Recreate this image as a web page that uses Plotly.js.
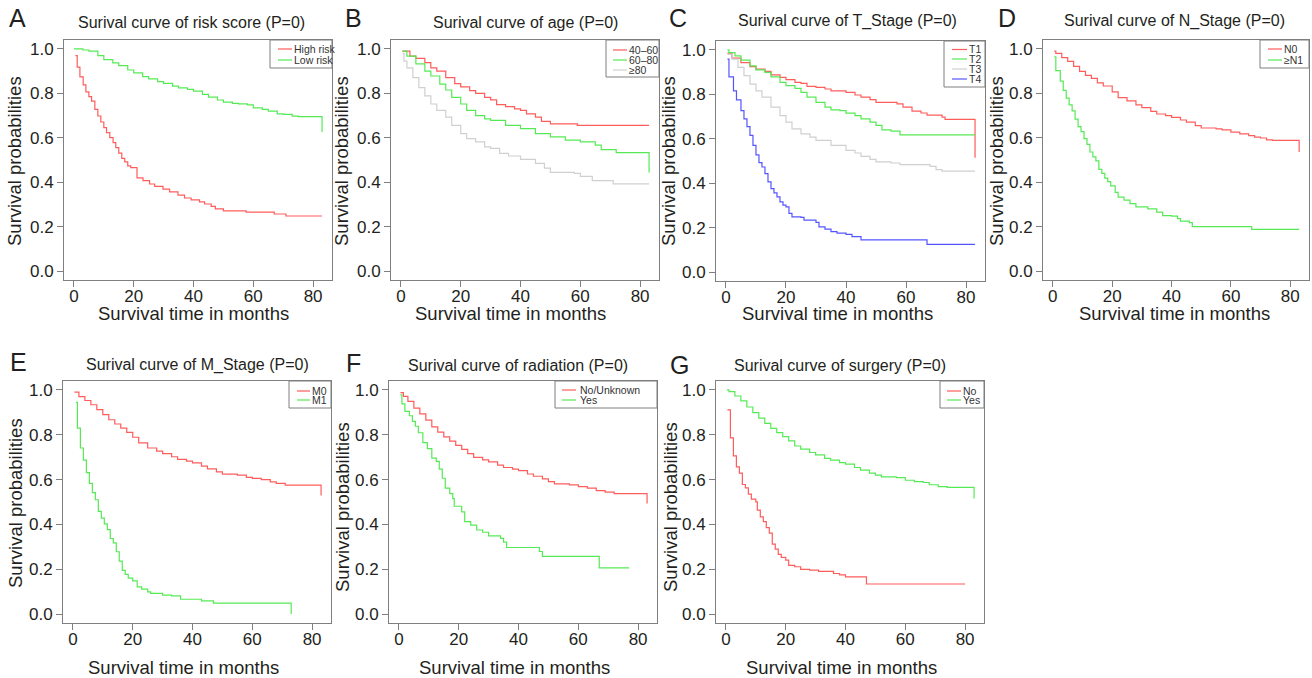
<!DOCTYPE html>
<html>
<head>
<meta charset="utf-8">
<script src="https://cdn.plot.ly/plotly-3.0.1.min.js"></script>
<style>html,body{margin:0;padding:0;background:#fff;}#chart{width:1312px;height:678px;}</style>
</head>
<body>
<div id="chart"></div>
<script>
// ---------------- DATA ----------------
const panelLetters = ["A","B","C","D","E","F","G"];
const panelTitles = [
  "Surival curve of risk score (P=0)",
  "Surival curve of age (P=0)",
  "Surival curve of T_Stage (P=0)",
  "Surival curve of N_Stage (P=0)",
  "Surival curve of M_Stage (P=0)",
  "Surival curve of radiation (P=0)",
  "Surival curve of surgery (P=0)"
];
const xAxisTitle = "Survival time in months";
const yAxisTitle = "Survival probabilities";
const xTickVals = [0, 20, 40, 60, 80];
const yTickVals = [0.0, 0.2, 0.4, 0.6, 0.8, 1.0];

const groupsA = ["High risk", "Low risk"];
const groupsB = ["40–60", "60–80", "≥80"];
const groupsC = ["T1", "T2", "T3", "T4"];
const groupsD = ["N0", "≥N1"];
const groupsE = ["M0", "M1"];
const groupsF = ["No/Unknown", "Yes"];
const groupsG = ["No", "Yes"];

// A: risk score
const A_high_t = [0.5,1.1,2,3.1,4,5,5.9,7,8,9,10,10.9,12,13.1,14,15,16,17,18,19,21.1,23.1,25.3,27,29.8,32,34.8,37,39.2,42,43.7,45.9,47.3,50,57.6,67,70.9,83];
const A_high_s = [0.97,0.918,0.874,0.838,0.807,0.785,0.765,0.728,0.698,0.671,0.646,0.623,0.601,0.578,0.556,0.531,0.507,0.492,0.474,0.466,0.42,0.407,0.392,0.381,0.369,0.357,0.342,0.329,0.321,0.312,0.302,0.291,0.28,0.271,0.265,0.257,0.248,0.248];
const A_low_t = [0,3,5,8,10,13,15,18,20,23,25,28,30,33,35,38,40,43,45,48,50,53,55,58,60,63,65,68,70,73,75,83,83];
const A_low_s = [1.0,0.995,0.99,0.97,0.952,0.937,0.925,0.905,0.892,0.875,0.865,0.853,0.845,0.832,0.825,0.818,0.81,0.795,0.783,0.77,0.76,0.755,0.753,0.748,0.735,0.728,0.72,0.708,0.705,0.697,0.695,0.695,0.626];

// B: age
const B_4060_t = [0.5,3,5,8,10,12,15,18,20,23,25,28,30,32,35,38,40,42,45,47,50,58,59,83];
const B_4060_s = [0.99,0.967,0.957,0.938,0.915,0.90,0.871,0.844,0.829,0.812,0.80,0.782,0.771,0.749,0.74,0.73,0.723,0.708,0.693,0.674,0.663,0.663,0.656,0.656];
const B_6080_t = [0.5,2,5,8,10,13,15,17,20,22,25,28,30,35,40,45,50,55,60,65,67,72,83,83];
const B_6080_s = [0.99,0.967,0.933,0.90,0.878,0.841,0.815,0.782,0.752,0.723,0.70,0.685,0.678,0.656,0.641,0.619,0.604,0.589,0.582,0.567,0.547,0.533,0.533,0.444];
const B_80_t = [0.5,1,2,4,6,8,10,12,15,17,20,22,25,28,30,33,36,40,45,48,50,58,60,64,71,83];
const B_80_s = [0.98,0.945,0.915,0.871,0.826,0.789,0.752,0.723,0.693,0.656,0.619,0.596,0.582,0.559,0.552,0.53,0.518,0.503,0.485,0.463,0.444,0.44,0.426,0.407,0.393,0.393];

// C: T stage
const C_T1_t = [0.5,2,5,8,10,13,15,18,20,23,25,27,30,33,35,40,43,45,48,50,57,59,62,65,67,72,73,83,83];
const C_T1_s = [0.985,0.963,0.943,0.925,0.913,0.903,0.888,0.876,0.866,0.854,0.849,0.836,0.831,0.824,0.816,0.809,0.797,0.787,0.776,0.764,0.757,0.742,0.724,0.716,0.706,0.697,0.687,0.687,0.515];
const C_T2_t = [0.5,1,3,5,8,10,13,15,18,20,23,25,27,30,33,35,38,40,43,45,48,50,52,55,58,83];
const C_T2_s = [1.0,0.988,0.973,0.954,0.928,0.91,0.899,0.879,0.854,0.839,0.827,0.809,0.787,0.764,0.742,0.73,0.727,0.715,0.704,0.69,0.675,0.66,0.64,0.634,0.618,0.618];
const C_T3_t = [0.5,2,4,6,8,10,12,15,18,20,22,25,28,30,35,40,43,45,48,50,55,58,68,70,72,83];
const C_T3_s = [0.98,0.958,0.921,0.884,0.846,0.816,0.787,0.742,0.704,0.675,0.645,0.622,0.607,0.593,0.57,0.548,0.536,0.521,0.507,0.496,0.491,0.484,0.476,0.461,0.454,0.454];
const C_T4_t = [0.5,1,2.5,3.5,5,6,7,8,9,10,11,12,13,14,15,16,17,18,19,20,21,22,25,26,30,31,33,35,37,40,42,45,67,83];
const C_T4_s = [0.958,0.879,0.816,0.775,0.727,0.69,0.655,0.615,0.57,0.528,0.493,0.473,0.443,0.406,0.376,0.357,0.339,0.316,0.301,0.294,0.264,0.249,0.246,0.234,0.224,0.204,0.193,0.182,0.175,0.17,0.16,0.145,0.125,0.125];

// D: N stage
const D_N0_t = [0.5,1,3,5,7,9,11,13,15,17,20,22,25,28,30,33,35,38,40,43,45,48,50,55,57,60,63,66,68,70,72,74,83,83];
const D_N0_s = [0.99,0.98,0.961,0.944,0.921,0.899,0.881,0.867,0.847,0.833,0.807,0.781,0.766,0.748,0.736,0.719,0.707,0.70,0.692,0.68,0.67,0.655,0.644,0.64,0.636,0.625,0.618,0.61,0.603,0.599,0.591,0.588,0.588,0.536];
const D_N1_t = [0.5,1,2.5,3.5,4.5,5.5,6.5,7.5,8.5,9.5,10.5,11.5,12.5,13.5,14.5,15.5,16.5,17.5,18.5,19.5,21,22,24,26,28,32,35,37,40,42,43,46,47,67,83];
const D_N1_s = [0.964,0.902,0.855,0.813,0.778,0.748,0.721,0.684,0.65,0.628,0.596,0.57,0.536,0.514,0.496,0.458,0.44,0.418,0.403,0.384,0.354,0.333,0.319,0.304,0.289,0.28,0.265,0.25,0.247,0.236,0.225,0.218,0.2,0.188,0.188];

// E: M stage
const E_M0_t = [0.5,2,4,6,8,10,12,14,16,18,20,22,25,28,30,33,35,38,40,43,45,48,50,55,58,60,63,66,68,71,83,83];
const E_M0_s = [0.99,0.97,0.953,0.934,0.912,0.89,0.867,0.848,0.83,0.811,0.789,0.764,0.741,0.727,0.716,0.702,0.69,0.682,0.675,0.66,0.648,0.634,0.624,0.62,0.61,0.605,0.60,0.59,0.583,0.575,0.575,0.529];
const E_M1_t = [1,1.5,2.5,3.5,4.5,5.5,6.5,7.5,8.5,9.5,10.5,11.5,12.5,13.5,14.5,15.5,16.5,17.5,18.5,20,21.5,23,25,26,30,33,36,43,47,73,73];
const E_M1_s = [0.945,0.83,0.741,0.687,0.631,0.583,0.542,0.51,0.458,0.428,0.402,0.377,0.337,0.318,0.278,0.236,0.195,0.177,0.16,0.148,0.121,0.111,0.099,0.092,0.084,0.081,0.066,0.059,0.049,0.049,0.0];

// F: radiation
const F_no_t = [0.5,1.5,3,5,7,9,11,13,15,17,19,21,23,25,28,30,33,35,38,40,43,45,48,50,52,57,60,63,66,69,72,83,83];
const F_no_s = [0.988,0.971,0.949,0.919,0.893,0.865,0.835,0.812,0.791,0.772,0.753,0.735,0.716,0.699,0.688,0.679,0.665,0.654,0.647,0.64,0.625,0.615,0.603,0.591,0.581,0.576,0.569,0.562,0.551,0.544,0.537,0.537,0.493];
const F_yes_t = [0.5,1,2,3.5,4.5,5.5,6.5,8,9.5,11,12.5,13.5,14.5,15.5,17,18,18.5,21,22,24,26,28,30,34,35,36,47,48,67,77];
const F_yes_s = [0.978,0.938,0.904,0.885,0.86,0.838,0.809,0.765,0.738,0.696,0.681,0.647,0.606,0.562,0.537,0.515,0.481,0.456,0.412,0.397,0.375,0.365,0.349,0.338,0.321,0.297,0.279,0.257,0.206,0.206];

// G: surgery
const G_no_t = [0.5,1.5,2.5,3.5,4.5,5.5,6.5,7.5,8.5,10,10.5,11.5,12.5,13.5,14.5,15.5,16.5,17.5,18.5,20,21,23,25,28,31,36,38,40,47,80];
const G_no_s = [0.911,0.786,0.706,0.657,0.629,0.578,0.563,0.535,0.513,0.501,0.464,0.434,0.412,0.386,0.361,0.312,0.29,0.266,0.253,0.241,0.217,0.211,0.199,0.196,0.19,0.181,0.175,0.166,0.134,0.134];
const G_yes_t = [0.3,1,3,5,7,9,11,13,15,17,19,21,23,25,28,30,33,35,38,40,43,45,48,50,52,57,60,63,66,68,71,74,83,83];
const G_yes_s = [1.0,0.993,0.973,0.951,0.924,0.899,0.874,0.851,0.829,0.81,0.792,0.773,0.75,0.736,0.721,0.71,0.695,0.687,0.676,0.669,0.654,0.642,0.629,0.62,0.612,0.609,0.597,0.591,0.587,0.577,0.569,0.565,0.565,0.516];

// ---------------- STYLE / LAYOUT ----------------
const W = 1312, H = 678;
const FONT = "Liberation Sans, Arial, Helvetica, sans-serif";
const TXT = "#231f20";
const RED = "#ff5c5c", GREEN = "#55ea55", GRAY = "#d0d0d0", BLUE = "#5555ff";
const AXC = "#7f7f7f";
const px = x => x / W;
const py = y => 1 - y / H;

const series = [
  [[A_high_t, A_high_s, RED], [A_low_t, A_low_s, GREEN]],
  [[B_4060_t, B_4060_s, RED], [B_6080_t, B_6080_s, GREEN], [B_80_t, B_80_s, GRAY]],
  [[C_T1_t, C_T1_s, RED], [C_T2_t, C_T2_s, GREEN], [C_T3_t, C_T3_s, GRAY], [C_T4_t, C_T4_s, BLUE]],
  [[D_N0_t, D_N0_s, RED], [D_N1_t, D_N1_s, GREEN]],
  [[E_M0_t, E_M0_s, RED], [E_M1_t, E_M1_s, GREEN]],
  [[F_no_t, F_no_s, RED], [F_yes_t, F_yes_s, GREEN]],
  [[G_no_t, G_no_s, RED], [G_yes_t, G_yes_s, GREEN]]
];
const groups = [groupsA, groupsB, groupsC, groupsD, groupsE, groupsF, groupsG];

// pixel geometry of each panel
const geo = [
  {box:[64,332,40,280],  letter:[17,18],  title:[191,22],  xt:[193,313], yt:[15,161],
   leg:{box:[270,332,40,68], line:[278,292], tx:293, rows:[49,60]}},
  {box:[391,659,40,280], letter:[353,18], title:[525,22],  xt:[510,313], yt:[342,161],
   leg:{box:[606,659,40,77], line:[613,627], tx:628, rows:[50,60,70]}},
  {box:[716,985,41,281], letter:[678,18], title:[847,21],  xt:[837,313], yt:[669,161],
   leg:{box:[944,985,41,87], line:[952,967], tx:968, rows:[49.5,59,69,79]}},
  {box:[1043,1309,40,280], letter:[1007,18], title:[1174,21], xt:[1174,313], yt:[997,161],
   leg:{box:[1260,1309,40,68], line:[1268,1282], tx:1283, rows:[49,60]}},
  {box:[63,331,381,623], letter:[18,362], title:[197,365], xt:[183,667], yt:[15,503],
   leg:{box:[289,331,381,408], line:[297,310], tx:311, rows:[391,400]}},
  {box:[389,657,381,623], letter:[353,363], title:[518,365], xt:[514,667], yt:[342,507],
   leg:{box:[555,657,381,408], line:[562,576], tx:579, rows:[390,400]}},
  {box:[716,984,381,623], letter:[679,365], title:[840,365], xt:[841,667], yt:[670,507],
   leg:{box:[940,984,381,408], line:[947,961], tx:962, rows:[391,400]}}
];

const data = [];
const layout = {
  width: W, height: H,
  margin: {l:0, r:0, t:0, b:0},
  paper_bgcolor: "#ffffff", plot_bgcolor: "#ffffff",
  showlegend: false,
  font: {family: FONT, color: TXT},
  annotations: [], shapes: []
};

geo.forEach((g, i) => {
  const n = i + 1;
  const xa = "x" + (n === 1 ? "" : n), ya = "y" + (n === 1 ? "" : n);
  const [l, r, t, b] = g.box;
  layout["xaxis" + (n === 1 ? "" : n)] = {
    domain: [px(l), px(r)], anchor: ya, range: [-3.32, 86.32],
    tickmode: "array", tickvals: xTickVals, ticktext: xTickVals.map(String),
    ticks: "outside", ticklen: 6, tickwidth: 1, tickcolor: AXC, ticklabelstandoff: -5,
    showline: true, linecolor: AXC, linewidth: 1, mirror: true,
    showgrid: false, zeroline: false, fixedrange: true,
    tickfont: {family: FONT, size: 17, color: TXT}
  };
  layout["yaxis" + (n === 1 ? "" : n)] = {
    domain: [py(b), py(t)], anchor: xa, range: [-0.04, 1.04],
    tickmode: "array", tickvals: yTickVals, ticktext: yTickVals.map(v => v.toFixed(1)),
    ticks: "outside", ticklen: 6, tickwidth: 1, tickcolor: AXC,
    showline: true, linecolor: AXC, linewidth: 1, mirror: true,
    showgrid: false, zeroline: false, fixedrange: true,
    tickfont: {family: FONT, size: 17, color: TXT}
  };
  series[i].forEach((s, k) => {
    data.push({
      type: "scatter", mode: "lines", x: s[0], y: s[1], name: groups[i][k],
      xaxis: xa, yaxis: ya, line: {shape: "hv", color: s[2], width: 1.2},
      hoverinfo: "skip", showlegend: false
    });
  });
  // panel letter
  layout.annotations.push({xref:"paper", yref:"paper", x:px(g.letter[0]), y:py(g.letter[1]),
    xanchor:"center", yanchor:"middle", showarrow:false, text:panelLetters[i],
    font:{family:FONT, size:25, color:TXT}});
  // title
  layout.annotations.push({xref:"paper", yref:"paper", x:px(g.title[0]), y:py(g.title[1]),
    xanchor:"center", yanchor:"middle", showarrow:false, text:panelTitles[i],
    font:{family:FONT, size:16, color:TXT}});
  // axis titles
  layout.annotations.push({xref:"paper", yref:"paper", x:px(g.xt[0]), y:py(g.xt[1]),
    xanchor:"center", yanchor:"middle", showarrow:false, text:xAxisTitle,
    font:{family:FONT, size:18.5, color:TXT}});
  layout.annotations.push({xref:"paper", yref:"paper", x:px(g.yt[0]), y:py(g.yt[1]),
    xanchor:"center", yanchor:"middle", showarrow:false, text:yAxisTitle, textangle:-90,
    font:{family:FONT, size:18.5, color:TXT}});
  // legend
  const L = g.leg;
  layout.shapes.push({type:"rect", xref:"paper", yref:"paper", layer:"above",
    x0:px(L.box[0]), x1:px(L.box[1]), y0:py(L.box[3]), y1:py(L.box[2]),
    line:{color:AXC, width:1}, fillcolor:"#ffffff"});
  series[i].forEach((s, k) => {
    layout.shapes.push({type:"line", xref:"paper", yref:"paper", layer:"above",
      x0:px(L.line[0]), x1:px(L.line[1]), y0:py(L.rows[k]), y1:py(L.rows[k]),
      line:{color:s[2], width:1.2}});
    layout.annotations.push({xref:"paper", yref:"paper", x:px(L.tx), y:py(L.rows[k]),
      xanchor:"left", yanchor:"middle", showarrow:false, text:groups[i][k], borderpad:0,
      font:{family:FONT, size:10.5, color:"#333333"}});
  });
});

Plotly.newPlot("chart", data, layout, {displayModeBar:false, staticPlot:true});
</script>
</body>
</html>
